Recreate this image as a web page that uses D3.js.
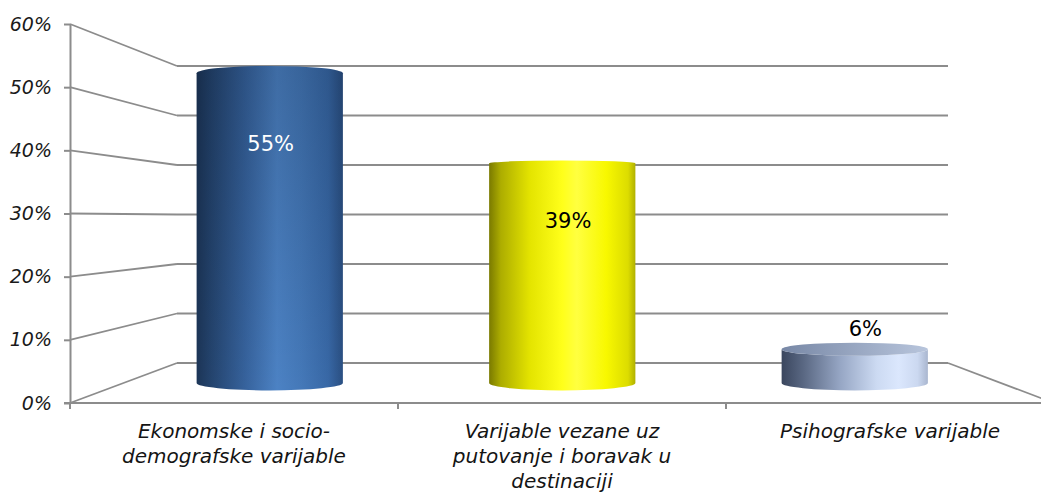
<!DOCTYPE html>
<html>
<head>
<meta charset="utf-8">
<script src="https://cdn.jsdelivr.net/npm/d3@7"></script>
<style>
  body { margin: 0; background: #ffffff; }
  svg { display: block; }
</style>
</head>
<body>
<svg id="chart" width="1041" height="492"></svg>
<script>
// ---- data ----
const categories = [
  "Ekonomske i socio-demografske varijable",
  "Varijable vezane uz putovanje i boravak u destinaciji",
  "Psihografske varijable"
];
const categoryLines = [
  ["Ekonomske i socio-", "demografske varijable"],
  ["Varijable vezane uz", "putovanje i boravak u", "destinaciji"],
  ["Psihografske varijable"]
];
const values = [0.55, 0.39, 0.06];
const tickValues = [0, 0.1, 0.2, 0.3, 0.4, 0.5, 0.6];

// ---- styling per cylinder ----
const bodyStops = [
  [[0, "#1c3557"], [0.1, "#24446e"], [0.33, "#36629c"], [0.55, "#4c82c4"], [0.72, "#4478b8"], [0.9, "#3868a6"], [1, "#2a4f82"]],
  [[0, "#7a7a00"], [0.08, "#adad00"], [0.28, "#e4e400"], [0.5, "#ffff1a"], [0.6, "#ffff40"], [0.8, "#f8f800"], [0.95, "#dcdc00"], [1, "#b0b000"]],
  [[0, "#3a465e"], [0.15, "#5a6883"], [0.4, "#96a6c4"], [0.65, "#ccdaf2"], [0.8, "#dbe7fd"], [0.93, "#cbd8f0"], [1, "#a9b6cf"]]
];
const topStops = [
  [[0, "#2a4a78"], [1, "#5a88c4"]],
  [[0, "#c8c800"], [1, "#ffff50"]],
  [[0, "#7888a6"], [1, "#b8c5dc"]]
];
const topShade = [0.18, 0, 0];
const labelColors = ["#ffffff", "#000000", "#000000"];

const FONT = "'DejaVu Sans', sans-serif";
const GRID = "#8c8c8c";

const svg = d3.select("#chart");
const defs = svg.append("defs");

// ---- 3D frame: front plane and back wall ----
const xFront = d3.scaleBand().domain(categories).range([70, 1054]);
const xBack = d3.scaleBand().domain(categories).range([177, 948]);
const yFront = d3.scaleLinear().domain([0, 0.6]).range([403, 24]);
const yBack = d3.scaleLinear().domain([0, 0.6]).range([363, 66]);
const yMid = v => (yFront(v) + yBack(v)) / 2;
const cxFront = c => xFront(c) + xFront.bandwidth() / 2;
const cxBack = c => xBack(c) + xBack.bandwidth() / 2;
const cxMid = c => (cxFront(c) + cxBack(c)) / 2;
const labelX = d3.scaleBand().domain(categories).range([122, 1014]);

// eye level: where front and back planes coincide
const vEye = (yFront(0) - yBack(0)) / ((yFront(0) - yBack(0)) - (yFront(0.6) - yBack(0.6))) * 0.6;
const horizon = yFront(vEye);
const ryAt = y => Math.abs(y - horizon) * 0.05;

const midBand = (xFront.bandwidth() + xBack.bandwidth()) / 2;
const barW = midBand * 0.5;

const frame = svg.append("g").attr("fill", "none").attr("stroke", GRID);

// back wall gridlines
frame.selectAll("line.back").data(tickValues).join("line")
  .attr("class", "back")
  .attr("x1", xBack.range()[0]).attr("x2", xBack.range()[1])
  .attr("y1", d => yBack(d)).attr("y2", d => yBack(d))
  .attr("stroke-width", 2);

// side wall gridlines
frame.selectAll("line.side").data(tickValues).join("line")
  .attr("class", "side")
  .attr("x1", xFront.range()[0]).attr("x2", xBack.range()[0])
  .attr("y1", d => yFront(d)).attr("y2", d => yBack(d))
  .attr("stroke-width", 1.8);

// floor: right edge
frame.append("line")
  .attr("x1", xBack.range()[1]).attr("y1", yBack(0))
  .attr("x2", xFront.range()[1]).attr("y2", yFront(0))
  .attr("stroke-width", 1.8);

// value axis on the front plane
const yAxis = svg.append("g")
  .attr("transform", `translate(${xFront.range()[0]},0)`)
  .call(d3.axisLeft(yFront).tickValues(tickValues).tickFormat(d3.format(".0%")).tickSize(6).tickSizeOuter(0).tickPadding(12));
yAxis.select(".domain").attr("stroke", GRID).attr("stroke-width", 2);
yAxis.selectAll(".tick line").attr("stroke", GRID).attr("stroke-width", 2);
yAxis.selectAll(".tick text")
  .attr("font-family", FONT).attr("font-size", 19).attr("font-style", "italic")
  .attr("fill", "#1a1a1a");

// category axis along the front floor edge
const xAxisG = svg.append("g");
xAxisG.append("line")
  .attr("x1", xFront.range()[0] - 6).attr("x2", xFront.range()[1])
  .attr("y1", yFront(0)).attr("y2", yFront(0))
  .attr("stroke", GRID).attr("stroke-width", 2);
const bounds = categories.map(c => xFront(c));
xAxisG.selectAll("line.tick").data(bounds).join("line")
  .attr("class", "tick")
  .attr("x1", d => d).attr("x2", d => d)
  .attr("y1", yFront(0)).attr("y2", yFront(0) + 6)
  .attr("stroke", GRID).attr("stroke-width", 2);

xAxisG.selectAll("text.cat").data(categories).join("text")
  .attr("class", "cat")
  .attr("x", d => cxFront(d))
  .attr("y", 438)
  .attr("text-anchor", "middle")
  .attr("font-family", FONT).attr("font-size", 20).attr("font-style", "italic")
  .attr("fill", "#141414")
  .each(function (d, i) {
    d3.select(this).selectAll("tspan").data(categoryLines[i]).join("tspan")
      .attr("x", cxFront(d))
      .attr("dy", (t, j) => j === 0 ? 0 : 25)
      .text(t => t);
  });

// ---- gradients ----
values.forEach((v, i) => {
  const g = defs.append("linearGradient").attr("id", "body" + i)
    .attr("x1", 0).attr("x2", 1).attr("y1", 0).attr("y2", 0);
  bodyStops[i].forEach(s => g.append("stop").attr("offset", s[0]).attr("stop-color", s[1]));
  const t = defs.append("linearGradient").attr("id", "top" + i)
    .attr("x1", 0).attr("x2", 1).attr("y1", 0).attr("y2", 0);
  topStops[i].forEach(s => t.append("stop").attr("offset", s[0]).attr("stop-color", s[1]));
  const sh = defs.append("linearGradient").attr("id", "shade" + i)
    .attr("x1", 0).attr("x2", 0).attr("y1", 0).attr("y2", 1);
  sh.append("stop").attr("offset", 0).attr("stop-color", "#000814").attr("stop-opacity", topShade[i]);
  sh.append("stop").attr("offset", 1).attr("stop-color", "#000814").attr("stop-opacity", 0);
});

// ---- cylinders ----
const bars = categories.map((c, i) => {
  const cx = cxMid(c);
  const yT = yMid(values[i]);
  const yB = yMid(0);
  return { c, i, v: values[i], xl: cx - barW / 2, xr: cx + barW / 2, cx, yT, yB,
           ryT: ryAt(yT), ryB: ryAt(yB) * 0.9, topVisible: yT > horizon };
});

const bodyPath = b => {
  const rx = barW / 2;
  const sweepTop = b.topVisible ? 0 : 1;
  return `M${b.xl},${b.yT}` +
    `A${rx},${b.ryT} 0 0 ${sweepTop} ${b.xr},${b.yT}` +
    `L${b.xr},${b.yB}` +
    `A${rx},${b.ryB} 0 0 1 ${b.xl},${b.yB}Z`;
};

const barG = svg.append("g");
barG.selectAll("path.body").data(bars).join("path")
  .attr("class", "body")
  .attr("d", bodyPath)
  .attr("fill", b => `url(#body${b.i})`);
barG.selectAll("path.shade").data(bars.filter(b => topShade[b.i] > 0)).join("path")
  .attr("class", "shade")
  .attr("d", bodyPath)
  .attr("fill", b => `url(#shade${b.i})`);
barG.selectAll("ellipse.top").data(bars.filter(b => b.topVisible)).join("ellipse")
  .attr("class", "top")
  .attr("cx", b => b.cx).attr("cy", b => b.yT)
  .attr("rx", barW / 2).attr("ry", b => b.ryT)
  .attr("fill", b => `url(#top${b.i})`);

// ---- value labels ----
svg.append("g").selectAll("text").data(bars).join("text")
  .attr("x", b => labelX(b.c) + labelX.bandwidth() / 2)
  .attr("y", b => {
    const h = b.yB - b.yT;
    return h > 80 ? b.yT + 0.15 * h + 24 : b.yT - b.ryT - 14;
  })
  .attr("dy", "0.35em")
  .attr("text-anchor", "middle")
  .attr("font-family", FONT).attr("font-size", 21)
  .attr("fill", b => labelColors[b.i])
  .text(b => d3.format(".0%")(b.v));
</script>
</body>
</html>
